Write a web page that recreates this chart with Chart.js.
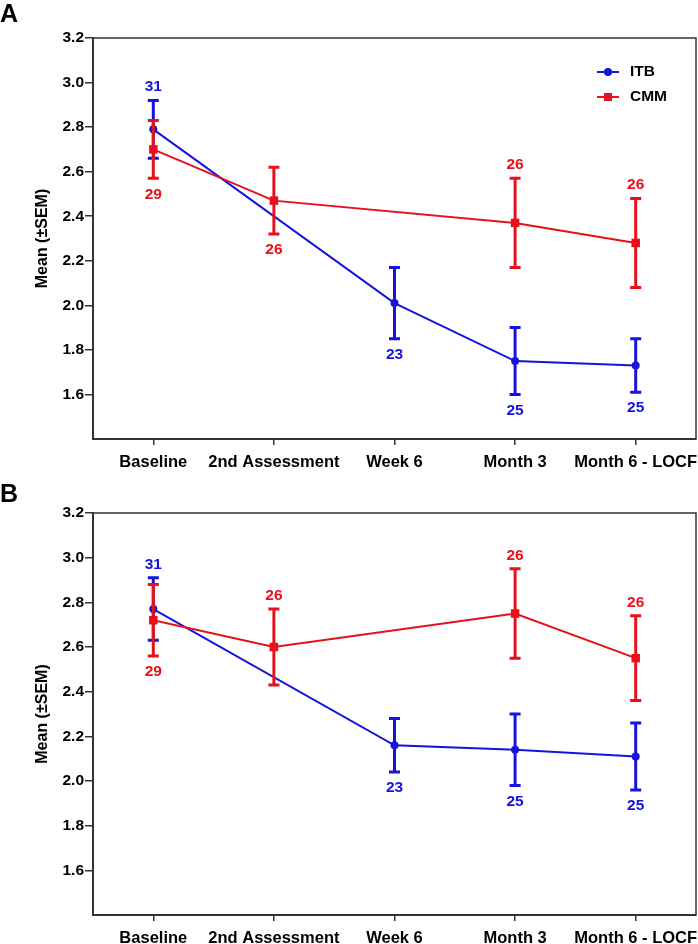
<!DOCTYPE html>
<html>
<head>
<meta charset="utf-8">
<script src="https://cdn.jsdelivr.net/npm/chart.js@4.4.1/dist/chart.umd.min.js"></script>
<style>
body { margin: 0; background: #fff; overflow: hidden; }
#wrap { position: relative; width: 698px; height: 944px; }
canvas { position: absolute; left: 0; }
.panel { position: absolute; left: 0; font: bold 25px "Liberation Sans", Arial, sans-serif; line-height: normal; color: #000; }
</style>
</head>
<body>
<div id="wrap">
	<canvas id="chartA" width="698" height="472" style="top:0"></canvas>
	<canvas id="chartB" width="698" height="472" style="top:472px"></canvas>
	<div class="panel" style="top:-1px">A</div>
	<div class="panel" style="top:479px">B</div>
</div>
<script>
const categories = ['Baseline', '2nd Assessment', 'Week 6', 'Month 3', 'Month 6 - LOCF'];
const yTickValues = [1.6, 1.8, 2.0, 2.2, 2.4, 2.6, 2.8, 3.0, 3.2];

// panel A
const itbMeanA = [2.79, null, 2.01, 1.75, 1.73];
const itbLowA = [2.66, null, 1.85, 1.60, 1.61];
const itbHighA = [2.92, null, 2.17, 1.90, 1.85];
const itbNA = [31, null, 23, 25, 25];
const itbNPosA = ['above', null, 'below', 'below', 'below'];
const cmmMeanA = [2.70, 2.47, null, 2.37, 2.28];
const cmmLowA = [2.57, 2.32, null, 2.17, 2.08];
const cmmHighA = [2.83, 2.62, null, 2.57, 2.48];
const cmmNA = [29, 26, null, 26, 26];
const cmmNPosA = ['below', 'below', null, 'above', 'above'];

// panel B
const itbMeanB = [2.77, null, 2.16, 2.14, 2.11];
const itbLowB = [2.63, null, 2.04, 1.98, 1.96];
const itbHighB = [2.91, null, 2.28, 2.30, 2.26];
const itbNB = [31, null, 23, 25, 25];
const itbNPosB = ['above', null, 'below', 'below', 'below'];
const cmmMeanB = [2.72, 2.60, null, 2.75, 2.55];
const cmmLowB = [2.56, 2.43, null, 2.55, 2.36];
const cmmHighB = [2.88, 2.77, null, 2.95, 2.74];
const cmmNB = [29, 26, null, 26, 26];
const cmmNPosB = ['below', 'above', null, 'above', 'above'];

const BLUE = '#1414dc';
const RED = '#e8101a';
const FONT = '"Liberation Sans", Arial, sans-serif';

const errorBars = {
	id: 'errorBars',
	beforeDatasetDraw(chart, args) {
		const ds = chart.data.datasets[args.index];
		if (!ds.errLow) return;
		const x = chart.scales.x, y = chart.scales.y, ctx = chart.ctx;
		ctx.save();
		ctx.strokeStyle = ds.borderColor;
		ctx.lineWidth = 3;
		ds.errLow.forEach((lo, i) => {
			const hi = ds.errHigh[i];
			if (lo == null || hi == null) return;
			const px = x.getPixelForValue(i);
			const y1 = y.getPixelForValue(lo), y2 = y.getPixelForValue(hi);
			ctx.beginPath();
			ctx.moveTo(px, y1); ctx.lineTo(px, y2);
			ctx.moveTo(px - 5.5, y1); ctx.lineTo(px + 5.5, y1);
			ctx.moveTo(px - 5.5, y2); ctx.lineTo(px + 5.5, y2);
			ctx.stroke();
		});
		ctx.restore();
	},
	afterDatasetsDraw(chart) {
		const x = chart.scales.x, y = chart.scales.y, ctx = chart.ctx;
		ctx.save();
		ctx.font = 'bold 15.5px ' + FONT;
		ctx.textAlign = 'center';
		ctx.textBaseline = 'middle';
		chart.data.datasets.forEach(ds => {
			ctx.fillStyle = ds.borderColor;
			ds.counts.forEach((n, i) => {
				if (n == null) return;
				const px = x.getPixelForValue(i);
				if (ds.countPos[i] === 'above') {
					ctx.fillText(String(n), px, y.getPixelForValue(ds.errHigh[i]) - 13.5);
				} else {
					ctx.fillText(String(n), px, y.getPixelForValue(ds.errLow[i]) + 16);
				}
			});
		});
		ctx.restore();
	}
};

const frame = {
	id: 'frame',
	afterDraw(chart) {
		const a = chart.chartArea, ctx = chart.ctx;
		ctx.save();
		ctx.strokeStyle = '#333';
		ctx.lineWidth = 1.5;
		ctx.beginPath();
		ctx.moveTo(a.left, a.top);
		ctx.lineTo(a.right, a.top);
		ctx.lineTo(a.right, a.bottom);
		ctx.stroke();
		ctx.restore();
	}
};

const innerLegend = {
	id: 'innerLegend',
	afterDraw(chart) {
		const a = chart.chartArea, ctx = chart.ctx;
		ctx.save();
		chart.data.datasets.slice().sort((p, q) => q.order - p.order).forEach((ds, k) => {
			const yy = a.top + 34 + k * 25;
			const x0 = a.right - 99;
			ctx.strokeStyle = ds.borderColor;
			ctx.fillStyle = ds.borderColor;
			ctx.lineWidth = 2;
			ctx.beginPath();
			ctx.moveTo(x0, yy); ctx.lineTo(x0 + 22, yy);
			ctx.stroke();
			if (ds.pointStyle === 'rect') {
				ctx.fillRect(x0 + 7, yy - 4, 8, 8);
			} else {
				ctx.beginPath();
				ctx.arc(x0 + 11, yy, 4, 0, Math.PI * 2);
				ctx.fill();
			}
			ctx.fillStyle = '#000';
			ctx.font = 'bold 15.5px ' + FONT;
			ctx.textBaseline = 'middle';
			ctx.fillText(ds.label, x0 + 33, yy);
		});
		ctx.restore();
	}
};

function chartInit(canvas, d, topPad, xHeight, withLegend) {
	const ctx = document.getElementById(canvas);
	const axisGrid = { display: true, drawOnChartArea: false, color: '#333', lineWidth: 1.5 };
	const axisBorder = { display: true, color: '#333', width: 2 };
	const plugins = [errorBars, frame];
	if (withLegend) plugins.push(innerLegend);

	return new Chart(ctx, {
		type: 'line',
		data: {
			labels: categories,
			datasets: [{
				label: 'ITB',
				data: d.itbMean,
				errLow: d.itbLow,
				errHigh: d.itbHigh,
				counts: d.itbN,
				countPos: d.itbPos,
				order: 1,
				borderColor: BLUE,
				backgroundColor: BLUE,
				borderWidth: 2,
				tension: 0,
				spanGaps: true,
				pointStyle: 'circle',
				pointRadius: 4,
				pointBorderWidth: 0,
			}, {
				label: 'CMM',
				data: d.cmmMean,
				errLow: d.cmmLow,
				errHigh: d.cmmHigh,
				counts: d.cmmN,
				countPos: d.cmmPos,
				order: 0,
				borderColor: RED,
				backgroundColor: RED,
				borderWidth: 2,
				tension: 0,
				spanGaps: true,
				pointStyle: 'rect',
				pointRadius: 6,
				pointBorderWidth: 0,
			}]
		},
		options: {
			responsive: false,
			animation: false,
			layout: {
				autoPadding: false,
				padding: { top: topPad, right: 2, left: 0, bottom: 0 }
			},
			plugins: {
				legend: { display: false },
				tooltip: { enabled: false }
			},
			scales: {
				x: {
					type: 'category',
					offset: true,
					grid: Object.assign({ offset: false, tickLength: 6 }, axisGrid),
					border: axisBorder,
					ticks: {
						color: '#000',
						font: { family: FONT, size: 16.5, weight: 'bold' },
						padding: 8,
						maxRotation: 0,
						autoSkip: false
					},
					afterFit: s => {
						s.height = xHeight;
						s.paddingLeft = 0;
						s.paddingRight = 0;
					}
				},
				y: {
					min: 1.4,
					max: 3.2,
					afterBuildTicks: s => { s.ticks = yTickValues.map(v => ({ value: v })); },
					grid: Object.assign({ tickLength: 8 }, axisGrid),
					border: axisBorder,
					ticks: {
						color: '#000',
						font: { family: FONT, size: 15.5, weight: 'bold' },
						padding: 1,
						callback: v => Number(v).toFixed(1)
					},
					title: {
						display: true,
						text: 'Mean (±SEM)',
						color: '#000',
						font: { family: FONT, size: 16, weight: 'bold' },
						padding: { top: 33, bottom: 0 }
					},
					afterFit: s => { s.width = 93; }
				}
			}
		},
		plugins: plugins
	});
}

chartInit('chartA', {
	itbMean: itbMeanA, itbLow: itbLowA, itbHigh: itbHighA, itbN: itbNA, itbPos: itbNPosA,
	cmmMean: cmmMeanA, cmmLow: cmmLowA, cmmHigh: cmmHighA, cmmN: cmmNA, cmmPos: cmmNPosA
}, 38, 33, true);

chartInit('chartB', {
	itbMean: itbMeanB, itbLow: itbLowB, itbHigh: itbHighB, itbN: itbNB, itbPos: itbNPosB,
	cmmMean: cmmMeanB, cmmLow: cmmLowB, cmmHigh: cmmHighB, cmmN: cmmNB, cmmPos: cmmNPosB
}, 41, 29, false);
</script>
</body>
</html>
